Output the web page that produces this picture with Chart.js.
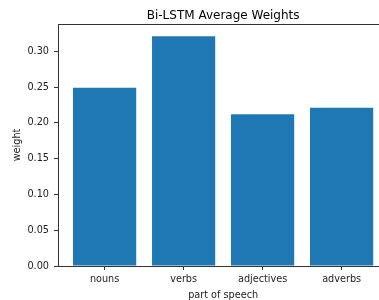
<!DOCTYPE html>
<html>
<head>
<meta charset="utf-8">
<script src="https://cdn.jsdelivr.net/npm/chart.js@4/dist/chart.umd.min.js"></script>
<style>
html,body{margin:0;padding:0;overflow:hidden;background:#fff;width:379px;height:300px;}
canvas{display:block;}
</style>
</head>
<body>
<canvas id="c" width="379" height="300"></canvas>
<script>
const categories = ["nouns", "verbs", "adjectives", "adverbs"];
const weights = [0.249, 0.321, 0.212, 0.221];
const yTicks = [0.00, 0.05, 0.10, 0.15, 0.20, 0.25, 0.30];
const titleText = "Bi-LSTM Average Weights";
const xTitle = "part of speech";
const yTitle = "weight";

const FONT = "'DejaVu Sans', sans-serif";
const AXIS = "#333";
// full axis range is -0.59 .. 3.59; the original picture is cropped on the right
const X_MIN = -0.59, X_FULL_MAX = 3.59, X_VISIBLE_MAX = 3.473;

const framePlugin = {
  id: 'frame',
  afterDraw(chart) {
    const a = chart.chartArea, ctx = chart.ctx;
    const xs = chart.scales.x;
    const cx = xs.getPixelForValue((X_MIN + X_FULL_MAX) / 2);
    ctx.save();
    ctx.strokeStyle = AXIS;
    ctx.lineWidth = 1;
    ctx.beginPath();
    ctx.moveTo(a.left, Math.round(a.top) + 0.5);
    ctx.lineTo(a.right, Math.round(a.top) + 0.5);
    ctx.stroke();
    ctx.fillStyle = "#000";
    ctx.font = "12px " + FONT;
    ctx.textAlign = "center";
    ctx.textBaseline = "alphabetic";
    ctx.fillText(titleText, cx, 19);
    ctx.fillStyle = "#222";
    ctx.font = "9.7px " + FONT;
    ctx.fillText(xTitle, cx, 298);
    ctx.restore();
  }
};

new Chart(document.getElementById('c'), {
  type: 'bar',
  data: {
    datasets: [{
      data: weights.map((v, i) => ({x: i, y: v})),
      backgroundColor: '#1f77b4',
      borderWidth: 0,
      barPercentage: 0.8,
      categoryPercentage: 1.0
    }]
  },
  options: {
    responsive: false,
    animation: false,
    layout: {padding: {top: 24, left: 0, right: 0, bottom: 0}},
    plugins: {legend: {display: false}, tooltip: {enabled: false}, title: {display: false}},
    scales: {
      x: {
        type: 'linear',
        offset: false,
        min: X_MIN,
        max: X_VISIBLE_MAX,
        afterFit(s) { s.height = 34; s.paddingLeft = 0; s.paddingRight = 0; },
        grid: {offset: false, drawOnChartArea: false, drawTicks: true, tickLength: 4, color: AXIS},
        border: {display: true, color: AXIS, width: 1},
        ticks: {
          stepSize: 1,
          includeBounds: false,
          autoSkip: false,
          maxRotation: 0,
          padding: 4,
          color: '#222',
          font: {family: FONT, size: 9.7},
          callback: (v) => (Number.isInteger(v) && categories[v] !== undefined) ? categories[v] : ''
        },
        title: {display: false, text: xTitle}
      },
      y: {
        min: 0,
        max: 0.338,
        afterFit(s) { s.width = 58; },
        grid: {drawOnChartArea: false, drawTicks: true, tickLength: 4, color: AXIS},
        border: {display: true, color: AXIS, width: 1},
        ticks: {
          stepSize: 0.05,
          includeBounds: false,
          padding: 5,
          color: '#222',
          font: {family: FONT, size: 9.7},
          callback: (v) => yTicks.some(t => Math.abs(t - v) < 1e-6) ? Number(v).toFixed(2) : ''
        },
        title: {display: true, text: yTitle, color: '#222', font: {family: FONT, size: 9.7}, padding: {top: 12, bottom: 0}}
      }
    }
  },
  plugins: [framePlugin]
});
</script>
</body>
</html>
